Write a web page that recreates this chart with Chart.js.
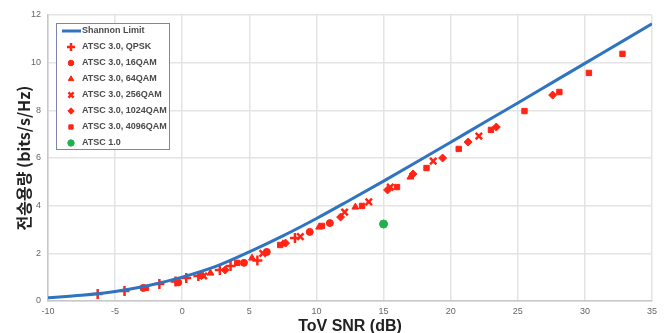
<!DOCTYPE html>
<html>
<head>
<meta charset="utf-8">
<script src="https://cdn.jsdelivr.net/npm/chart.js@4.4.1/dist/chart.umd.min.js"></script>
<style>
  html, body { margin: 0; padding: 0; background: #fff; }
  #wrap { width: 669px; height: 333px; }
</style>
</head>
<body>
<div id="wrap"><canvas id="snrchart" width="669" height="333"></canvas></div>
<script>
// values
const shannonSnr = [-10, -7.5, -5, -2.5, 0, 2.5, 5, 7.5, 10, 12.5, 15, 17.5, 20, 22.5, 25, 27.5, 30, 32.5, 35]
const shannonCap = [0.14, 0.24, 0.40, 0.65, 1.0, 1.45, 2.06, 2.73, 3.46, 4.24, 5.03, 5.84, 6.66, 7.49, 8.31, 9.14, 9.97, 10.80, 11.63]

const qpskSnr = [-6.3, -4.3, -1.7, -0.5, 0.3, 1.2, 2.8, 3.6, 5.6, 8.4]
const qpskCap = [0.29, 0.42, 0.71, 0.82, 0.97, 1.05, 1.30, 1.47, 1.70, 2.64]

const qam16Snr = [-2.9, -0.3, 1.4, 4.6, 6.3, 9.5, 11.0]
const qam16Cap = [0.55, 0.78, 1.08, 1.60, 2.06, 2.90, 3.27]

const qam64Snr = [2.1, 5.2, 7.5, 10.2, 12.9, 17.0]
const qam64Cap = [1.17, 1.80, 2.40, 3.10, 3.94, 5.20]

const qam256Snr = [1.6, 6.0, 8.8, 12.1, 13.9, 15.5, 18.7, 22.1]
const qam256Cap = [1.05, 2.00, 2.70, 3.73, 4.16, 4.78, 5.87, 6.92]

const qam1024Snr = [3.2, 7.7, 11.8, 15.3, 17.2, 19.4, 21.3, 23.4, 27.6]
const qam1024Cap = [1.30, 2.43, 3.52, 4.66, 5.33, 6.00, 6.67, 7.30, 8.64]

const qam4096Snr = [-2.7, 4.1, 7.3, 10.4, 13.4, 16.0, 18.2, 20.6, 23.0, 25.5, 28.1, 30.3, 32.8]
const qam4096Cap = [0.55, 1.60, 2.35, 3.15, 3.99, 4.78, 5.58, 6.38, 7.18, 7.97, 8.77, 9.57, 10.37]

const atsc1Snr = [15.0]
const atsc1Cap = [3.23]

const xTicks = [-10, -5, 0, 5, 10, 15, 20, 25, 30, 35]
const yTicks = [0, 2, 4, 6, 8, 10, 12]

const red = "#ff2414"
const blue = "#2f74c0"
const green = "#20b04c"

function pts(xs, ys) {
    let out = []
    for (let i = 0; i < xs.length; i++) {
        out.push({x: xs[i], y: ys[i]})
    }
    return out
}

function markers(label, xs, ys, style, color, r, bw) {
    return {
        label: label,
        data: pts(xs, ys),
        pointStyle: style,
        backgroundColor: color,
        borderColor: color,
        pointRadius: r,
        pointHoverRadius: r,
        borderWidth: bw,
        showLine: false
    }
}

//draws the boxed legend inside the plot, top left
const boxLegend = {
    id: "boxLegend",
    afterDraw(chart) {
        const ctx = chart.ctx
        const sets = chart.data.datasets
        ctx.save()
        ctx.strokeStyle = "#7b86a8"
        ctx.lineWidth = 1
        ctx.fillStyle = "#fff"
        ctx.fillRect(56, 23, 113, 126)
        ctx.strokeRect(56.5, 23.5, 113, 126)
        ctx.font = "bold 9px 'Liberation Sans', Arial, sans-serif"
        ctx.textBaseline = "middle"
        let y = 31
        sets.forEach((ds, i) => {
            if (i == 0) {
                ctx.strokeStyle = ds.borderColor
                ctx.lineWidth = 3
                ctx.beginPath()
                ctx.moveTo(62, y)
                ctx.lineTo(81, y)
                ctx.stroke()
            } else {
                ctx.fillStyle = ds.backgroundColor
                ctx.strokeStyle = ds.borderColor
                ctx.lineWidth = ds.borderWidth
                Chart.helpers.drawPoint(ctx, {
                    pointStyle: ds.pointStyle,
                    radius: ds.pointRadius * 0.8,
                    borderWidth: ds.borderWidth,
                    rotation: 0
                }, 71, y)
            }
            ctx.fillStyle = "#4a4a4a"
            ctx.fillText(ds.label, 82, y)
            y += 16
        })
        ctx.restore()
    }
}

let canvas = document.getElementById("snrchart")
let snrchart = new Chart(canvas, {
    type: "scatter",
    data: {
        datasets: [
            {
                label: "Shannon Limit",
                data: pts(shannonSnr, shannonCap),
                showLine: true,
                borderColor: blue,
                backgroundColor: blue,
                borderWidth: 3,
                pointRadius: 0,
                cubicInterpolationMode: "monotone"
            },
            markers("ATSC 3.0, QPSK", qpskSnr, qpskCap, "cross", red, 5, 2.5),
            markers("ATSC 3.0, 16QAM", qam16Snr, qam16Cap, "circle", red, 3.5, 1),
            markers("ATSC 3.0, 64QAM", qam64Snr, qam64Cap, "triangle", red, 4, 1),
            markers("ATSC 3.0, 256QAM", qam256Snr, qam256Cap, "crossRot", red, 4.5, 2.5),
            markers("ATSC 3.0, 1024QAM", qam1024Snr, qam1024Cap, "rectRot", red, 4, 1),
            markers("ATSC 3.0, 4096QAM", qam4096Snr, qam4096Cap, "rect", red, 3.8, 1),
            markers("ATSC 1.0", atsc1Snr, atsc1Cap, "circle", green, 4, 1)
        ]
    },
    options: {
        responsive: false,
        animation: false,
        layout: { padding: { left: 0, right: 17, top: 15, bottom: 0 } },
        plugins: {
            legend: { display: false },
            tooltip: { enabled: false }
        },
        scales: {
            x: {
                type: "linear",
                min: -10,
                max: 35,
                afterBuildTicks: (s) => { s.ticks = xTicks.map(v => ({value: v})) },
                afterFit: (s) => { s.height = 32 },
                grid: { color: "#e4e4e4", lineWidth: 1.5, drawTicks: false },
                border: { color: "#c8c8c8", width: 1.5 },
                ticks: {
                    padding: 5,
                    color: "#666",
                    font: { size: 9, family: "'Liberation Sans', Arial, sans-serif" },
                    maxRotation: 0
                },
                title: {
                    display: true,
                    text: "ToV SNR (dB)",
                    color: "#222",
                    font: { size: 16, weight: "bold", family: "'Liberation Sans', Arial, sans-serif" },
                    padding: { top: 0, bottom: -3 }
                }
            },
            y: {
                min: 0,
                max: 12,
                afterBuildTicks: (s) => { s.ticks = yTicks.map(v => ({value: v})) },
                afterFit: (s) => { s.width = 48 },
                grid: { color: "#e4e4e4", lineWidth: 1.5, drawTicks: false },
                border: { color: "#c8c8c8", width: 1.5 },
                ticks: {
                    padding: 7,
                    color: "#666",
                    font: { size: 9, family: "'Liberation Sans', Arial, sans-serif" }
                },
                title: {
                    display: true,
                    text: "전송용량 (bits/s/Hz)",
                    color: "#222",
                    font: { size: 16, weight: "bold", family: "'Noto Sans CJK KR', 'Liberation Sans', sans-serif" },
                    padding: { top: 14, bottom: 0 }
                }
            }
        }
    },
    plugins: [boxLegend]
})
</script>
</body>
</html>
